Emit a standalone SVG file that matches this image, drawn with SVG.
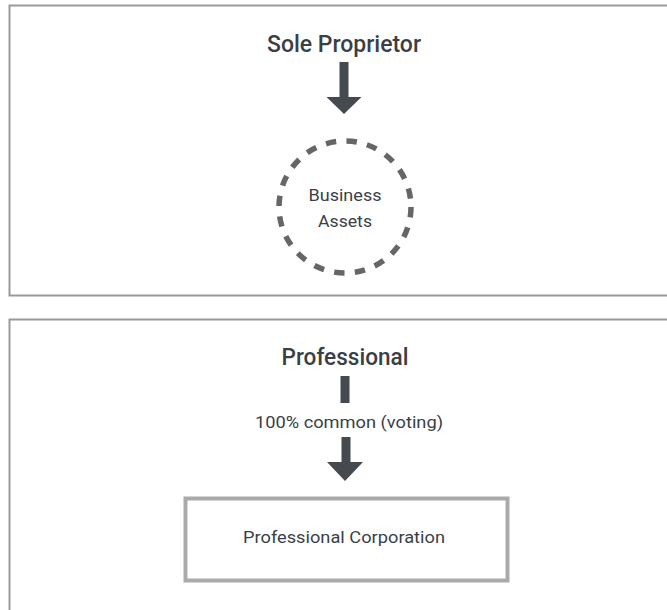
<svg xmlns="http://www.w3.org/2000/svg" width="667" height="610" viewBox="0 0 667 610">
<style>
.panel{fill:#fff;stroke:#999;stroke-width:2}
.t{font-family:Roboto,"Liberation Sans",sans-serif;fill:#3a3f46;text-anchor:middle}
.title{font-size:24px;font-weight:500}
.lbl{font-size:17px;font-weight:400}
.arrow{fill:#454a51}
</style>
<rect width="667" height="610" fill="#fff"/>
<rect class="panel" x="9.5" y="5.5" width="670" height="290"/>
<rect class="panel" x="9.5" y="319.5" width="670" height="300"/>
<g id="sole-proprietor"><text class="t title" x="344" y="52" textLength="154" lengthAdjust="spacingAndGlyphs">Sole Proprietor</text></g>
<g id="business-assets">
<circle cx="345" cy="207" r="66" fill="none" stroke="#666" stroke-width="5.5" stroke-dasharray="10.4 10.4"/>
<text class="t lbl" x="345" y="201" textLength="73" lengthAdjust="spacingAndGlyphs">Business</text>
<text class="t lbl" x="345" y="227" textLength="54" lengthAdjust="spacingAndGlyphs">Assets</text>
</g>
<g id="professional"><text class="t title" x="345" y="365" font-size="23" textLength="127" lengthAdjust="spacingAndGlyphs">Professional</text></g>
<g id="professional-corporation">
<rect x="185.5" y="498.5" width="322" height="82" fill="#fff" stroke="#aaa" stroke-width="4"/>
<text class="t lbl" x="344" y="543" textLength="202" lengthAdjust="spacingAndGlyphs">Professional Corporation</text>
</g>
<g id="connectors">
<polygon class="arrow" points="339.5,62 348.5,62 348.5,97 361.5,97 344,114 326.5,97 339.5,97"/>
<rect class="arrow" x="340.5" y="376" width="9" height="27"/>
<text class="t lbl" x="349" y="428" font-size="16" textLength="188" lengthAdjust="spacingAndGlyphs">100% common (voting)</text>
<polygon class="arrow" points="341.5,437 350.5,437 350.5,462 363,462 345,481 327,462 341.5,462"/>
</g>
</svg>
